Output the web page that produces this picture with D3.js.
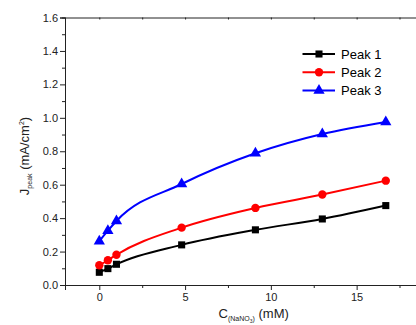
<!DOCTYPE html>
<html><head><meta charset="utf-8">
<script src="https://cdn.jsdelivr.net/npm/d3@7"></script>
<style>body{margin:0;background:#fff;}svg{display:block;font-family:"Liberation Sans",Arial,sans-serif;}</style>
</head><body>
<script>
const concentrations = [0, 0.5, 1, 4.8, 9.1, 13, 16.7];
const peak1 = [0.076, 0.098, 0.124, 0.24, 0.33, 0.395, 0.475];
const peak2 = [0.118, 0.148, 0.181, 0.343, 0.461, 0.541, 0.624];
const peak3 = [0.262, 0.325, 0.383, 0.604, 0.788, 0.903, 0.975];
const seriesNames = ["Peak 1", "Peak 2", "Peak 3"];
const seriesColors = ["#000000", "#ff0000", "#0000ff"];
const seriesSymbols = ["square", "circle", "triangle"];
const xTicks = [0, 5, 10, 15];
const yTicks = [0.0, 0.2, 0.4, 0.6, 0.8, 1.0, 1.2, 1.4, 1.6];

const W = 416, H = 325;
const svg = d3.select("body").append("svg").attr("width", W).attr("height", H);
const x = d3.scaleLinear().domain([-2, 20]).range([65, 442.4]);
const y = d3.scaleLinear().domain([0, 1.6]).range([285, 17.5]);

// axes
const gx = svg.append("g").attr("transform", `translate(0,${y(0)})`)
  .call(d3.axisBottom(x).tickValues(xTicks).tickSize(5).tickPadding(3).tickFormat(d3.format("d")));
const gxm = svg.append("g").attr("transform", `translate(0,${y(0)})`)
  .call(d3.axisBottom(x).tickValues([2.5, 7.5, 12.5, 17.5]).tickSize(3).tickFormat(""));
const gy = svg.append("g").attr("transform", `translate(${x(-2)},0)`)
  .call(d3.axisLeft(y).tickValues(yTicks).tickSize(5).tickPadding(2).tickFormat(d3.format(".1f")));
const gym = svg.append("g").attr("transform", `translate(${x(-2)},0)`)
  .call(d3.axisLeft(y).tickValues(d3.range(0.1, 1.6, 0.2)).tickSize(3).tickFormat(""));
const gt = svg.append("g").attr("transform", `translate(0,${y(1.6)})`)
  .call(d3.axisTop(x).tickValues([-2,0,2.5,5,7.5,10,12.5,15,17.5,20]).tickSize(-2).tickFormat(""));
[gx, gxm, gy, gym, gt].forEach(g => {
  g.selectAll("path,line").attr("stroke", "#222").attr("stroke-width", 1);
  g.selectAll("text").attr("font-size", 11).attr("fill", "#222").attr("font-family", "Liberation Sans, Arial, sans-serif");
});

const allSeries = [peak1, peak2, peak3];
const line = d3.line().x((d, i) => x(concentrations[i])).y(d => y(d)).curve(d3.curveMonotoneX);
const symType = {square: d3.symbolSquare, circle: d3.symbolCircle, triangle: d3.symbolTriangle};
const symSize = {square: 50, circle: 55, triangle: 55};

allSeries.forEach((vals, k) => {
  svg.append("path").datum(vals).attr("d", line).attr("fill", "none")
    .attr("stroke", seriesColors[k]).attr("stroke-width", 2);
  svg.append("g").selectAll("path").data(vals).join("path")
    .attr("transform", (d, i) => `translate(${x(concentrations[i])},${y(d)})`)
    .attr("d", d3.symbol().type(symType[seriesSymbols[k]]).size(symSize[seriesSymbols[k]]))
    .attr("fill", seriesColors[k]);
});

// legend
const leg = svg.append("g");
seriesNames.forEach((name, k) => {
  const ly = 54 + k * 18.3;
  leg.append("line").attr("x1", 302.5).attr("x2", 335).attr("y1", ly).attr("y2", ly)
    .attr("stroke", seriesColors[k]).attr("stroke-width", 2);
  leg.append("path").attr("transform", `translate(319,${ly})`)
    .attr("d", d3.symbol().type(symType[seriesSymbols[k]]).size(symSize[seriesSymbols[k]]))
    .attr("fill", seriesColors[k]);
  leg.append("text").attr("x", 341).attr("y", ly + 4.5).attr("font-size", 13).attr("fill", "#000").text(name);
});

// x title
const xt = svg.append("text").attr("x", x(9)).attr("y", 318).attr("text-anchor", "middle")
  .attr("font-size", 13).attr("fill", "#222");
xt.append("tspan").text("C");
xt.append("tspan").attr("font-size", 7).attr("dy", 3).text("(NaNO");
xt.append("tspan").attr("font-size", 5).attr("dy", 1.5).text("3");
xt.append("tspan").attr("font-size", 7).attr("dy", -1.5).text(")");
xt.append("tspan").attr("dy", -3).text(" (mM)");

// y title
const yt = svg.append("text").attr("transform", `translate(29,156) rotate(-90)`).attr("text-anchor", "middle")
  .attr("font-size", 13).attr("fill", "#222");
yt.append("tspan").text("J");
yt.append("tspan").attr("font-size", 7).attr("dy", 3).text("peak");
yt.append("tspan").attr("dy", -3).text(" (mA/cm");
yt.append("tspan").attr("font-size", 7).attr("dy", -5).text("2");
yt.append("tspan").attr("dy", 5).text(")");
</script>
</body></html>
